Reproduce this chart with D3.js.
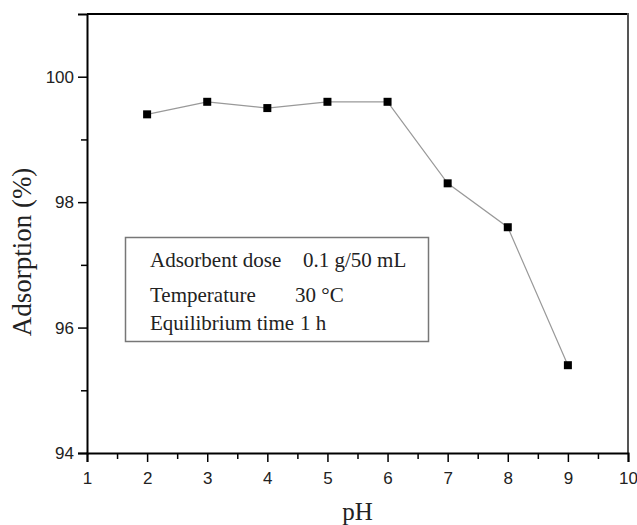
<!DOCTYPE html>
<html>
<head>
<meta charset="utf-8">
<script src="https://cdn.jsdelivr.net/npm/d3@7"></script>
<style>
  body { margin: 0; background: #fff; }
  svg { display: block; }
</style>
</head>
<body>
<div id="chart"></div>
<script>
'use strict';

var phValues = [2, 3, 4, 5, 6, 7, 8, 9];
var adsorption = [99.4, 99.6, 99.5, 99.6, 99.6, 98.3, 97.6, 95.4];
var xTicks = [1, 2, 3, 4, 5, 6, 7, 8, 9, 10];
var yTicks = [94, 96, 98, 100];
var legendLines = [
    { label: 'Adsorbent dose', value: '0.1 g/50 mL' },
    { label: 'Temperature', value: '30 °C' },
    { label: 'Equilibrium time', value: '1 h' }
];

(function(d3) {

    var width = 637;
    var height = 525;
    var plotLeft = 87, plotRight = 628, plotTop = 14, plotBottom = 453;
    var serif = '"Liberation Serif", "Times New Roman", serif';

    var svg = d3.select('#chart')
        .append('svg')
        .attr('width', width)
        .attr('height', height);

    var x = d3.scaleLinear().domain([1, 10]).range([plotLeft, plotRight]);
    var y = d3.scaleLinear().domain([94, 101]).range([plotBottom, plotTop]);

    // frame: top and right
    svg.append('line')
        .attr('x1', plotLeft).attr('x2', plotRight)
        .attr('y1', plotTop).attr('y2', plotTop)
        .attr('stroke', '#000').attr('stroke-width', 2);
    svg.append('line')
        .attr('x1', plotRight).attr('x2', plotRight)
        .attr('y1', plotTop - 1).attr('y2', plotBottom)
        .attr('stroke', '#555').attr('stroke-width', 2);

    // minor ticks
    var xMinor = d3.range(1.5, 10, 1);
    var yMinor = [95, 97, 99];

    svg.append('g')
        .attr('transform', 'translate(0,' + plotBottom + ')')
        .call(d3.axisBottom(x).tickValues(xTicks).tickSize(9).tickPadding(10).tickFormat(d3.format('d')));
    svg.append('g')
        .attr('transform', 'translate(0,' + plotBottom + ')')
        .call(d3.axisBottom(x).tickValues(xMinor).tickSize(6).tickFormat(''))
        .select('.domain').remove();

    svg.append('g')
        .attr('transform', 'translate(' + plotLeft + ',0)')
        .call(d3.axisLeft(y).tickValues(yTicks).tickSize(9).tickPadding(4).tickFormat(d3.format('d')));
    svg.append('g')
        .attr('transform', 'translate(' + plotLeft + ',0)')
        .call(d3.axisLeft(y).tickValues(yMinor).tickSize(6).tickFormat(''))
        .select('.domain').remove();

    svg.selectAll('.domain')
        .attr('stroke', '#000')
        .attr('stroke-width', 2);
    svg.selectAll('.tick line')
        .attr('stroke', '#000')
        .attr('stroke-width', 1.5);
    svg.selectAll('.tick text')
        .attr('font-family', '"Liberation Sans", Arial, sans-serif')
        .attr('font-size', 17)
        .attr('fill', '#222');

    // data line
    var data = phValues.map(function(d, i) {
        return { ph: d, value: adsorption[i] };
    });

    var line = d3.line()
        .x(function(d) { return x(d.ph); })
        .y(function(d) { return y(d.value); });

    svg.append('path')
        .datum(data)
        .attr('d', line)
        .attr('fill', 'none')
        .attr('stroke', '#999')
        .attr('stroke-width', 1.2);

    var markerSize = 8;
    svg.selectAll('.marker')
        .data(data)
        .enter()
        .append('rect')
        .attr('class', 'marker')
        .attr('x', function(d) { return x(d.ph) - markerSize / 2; })
        .attr('y', function(d) { return y(d.value) - markerSize / 2; })
        .attr('width', markerSize)
        .attr('height', markerSize)
        .attr('fill', '#000');

    // axis titles
    svg.append('text')
        .attr('x', (plotLeft + plotRight) / 2)
        .attr('y', 520)
        .attr('text-anchor', 'middle')
        .attr('font-family', serif)
        .attr('font-size', 25)
        .attr('fill', '#222')
        .text('pH');

    svg.append('text')
        .attr('transform', 'translate(31,252) rotate(-90)')
        .attr('text-anchor', 'middle')
        .attr('font-family', serif)
        .attr('font-size', 27)
        .attr('fill', '#222')
        .text('Adsorption (%)');

    // legend box
    svg.append('rect')
        .attr('x', 125.5)
        .attr('y', 237.5)
        .attr('width', 303)
        .attr('height', 104)
        .attr('fill', '#fff')
        .attr('stroke', '#777')
        .attr('stroke-width', 1.5);

    var lineY = [267, 302, 330];
    var valueX = [303, 295, 300];
    legendLines.forEach(function(d, i) {
        svg.append('text')
            .attr('x', 150)
            .attr('y', lineY[i])
            .attr('font-family', serif)
            .attr('font-size', 21)
            .attr('fill', '#222')
            .text(d.label);
        svg.append('text')
            .attr('x', valueX[i])
            .attr('y', lineY[i])
            .attr('font-family', serif)
            .attr('font-size', 21)
            .attr('fill', '#222')
            .text(d.value);
    });

})(window.d3);
</script>
</body>
</html>
